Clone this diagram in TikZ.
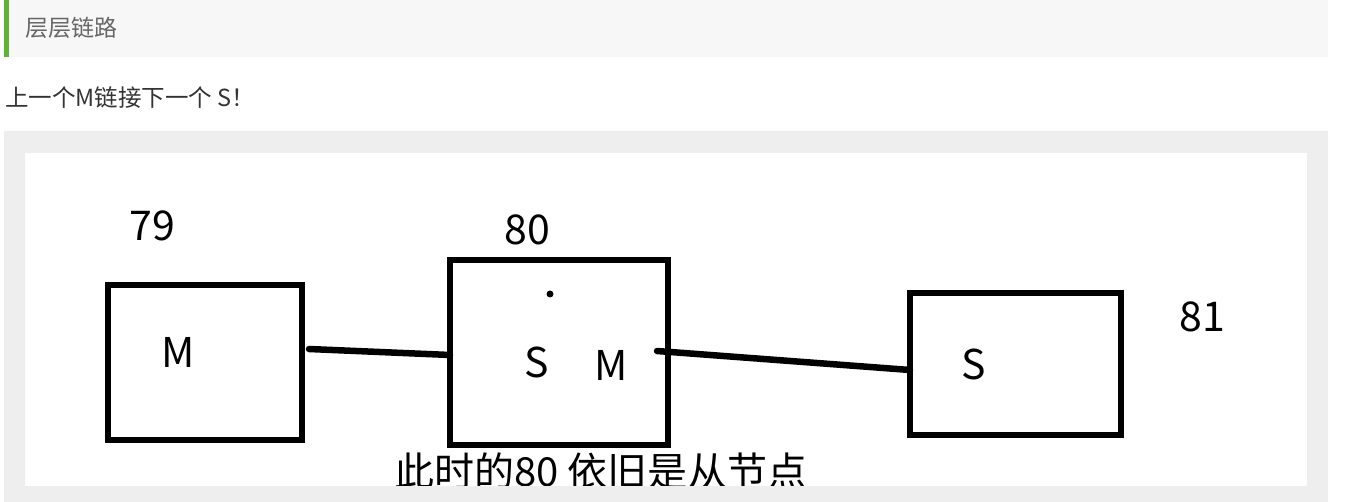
\documentclass[tikz,border=0pt]{standalone}
\usepackage{fontspec}
\setmainfont{Noto Sans CJK SC}
\usetikzlibrary{positioning, calc}
\definecolor{BAR_GREEN}{HTML}{5DB434}
\definecolor{HEAD_GREY}{HTML}{F7F7F7}
\definecolor{FRAME_GREY}{HTML}{EEEEEE}
\definecolor{TEXT_GREY}{HTML}{666666}
\definecolor{TEXT_DARK}{HTML}{333333}

\begin{document}
\begin{tikzpicture}[x=1pt, y=-1pt,
    box/.style={draw, line width=6.5pt, inner sep=0pt, outer sep=0pt},
    big/.style={inner sep=0pt, font=\fontsize{41}{41}\selectfont},
    link/.style={line width=6.5pt, line cap=round}]
      \useasboundingbox (0,0) rectangle (1360,502);

      % Header
      \fill[HEAD_GREY] (4,0) rectangle (1328,57);
      \fill[BAR_GREEN] (4,0) rectangle (9,57);
      \node[anchor=west, inner sep=0pt, TEXT_GREY, font=\fontsize{23}{23}\selectfont] (title) at (25,28) {层层链路};
      \node[anchor=west, inner sep=0pt, TEXT_DARK, font=\fontsize{23.5}{23.5}\selectfont] (intro) at (5,98) {上一个M链接下一个 S！};

      % Note under the middle box (cut by the frame)
      \node[inner sep=0pt, font=\fontsize{40}{40}\selectfont] (note) at (601,471) {此时的80 依旧是从节点};

      % Frame
      \fill[FRAME_GREY, even odd rule] (4,131) rectangle (1328,502) (25,153) rectangle (1307,486);

      % Boxes
      \node[box, minimum width=194pt, minimum height=155pt] (m79) at (205,362.5) {};
      \node[box, minimum width=218pt, minimum height=185pt] (m80) at (559,352.5) {};
      \node[box, minimum width=211pt, minimum height=142pt] (m81) at (1015.5,364) {};

      % Labels
      \node[big] (n79) at (152,226) {79};
      \node[big] (n80) at (527,230) {80};
      \node[big] (n81) at (1202,317) {81};
      \node[big] (a79) at (178,352) {M};
      \node[big] (s80) at (537,362) {S};
      \node[big] (a80) at (611,365) {M};
      \node[big] (s81) at (974,364) {S};
      \fill (550,294) circle (3.5);

      % Links
      \draw[link] ([xshift=7pt, yshift=13.5pt]m79.east) -- ([yshift=-2.5pt]m80.west);
      \draw[link] ([xshift=-11pt, yshift=1.5pt]m80.east) -- ([yshift=-6pt]m81.west);
    \end{tikzpicture}
\end{document}
